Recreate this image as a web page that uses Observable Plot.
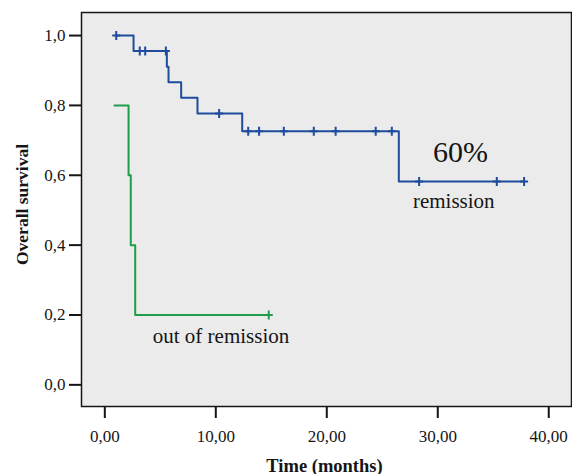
<!DOCTYPE html>
<html>
<head>
<meta charset="utf-8">
<script src="https://cdn.jsdelivr.net/npm/d3@7"></script>
<script src="https://cdn.jsdelivr.net/npm/@observablehq/plot@0.6"></script>
<style>
  html, body { margin: 0; padding: 0; background: #ffffff; }
  #chart { width: 572px; height: 474px; }
</style>
</head>
<body>
<div id="chart"></div>
<script>
// ---- Data ----
const xTicks = [0, 10, 20, 30, 40];
const yTicks = [0, 0.2, 0.4, 0.6, 0.8, 1.0];

// "remission" group: step times (months) and survival after each step
const remissionTimes    = [1.03, 2.59, 5.59, 5.74, 6.88, 8.35, 12.38, 26.49, 37.78];
const remissionSurvival = [1.0, 0.956, 0.911, 0.866, 0.822, 0.777, 0.726, 0.582, 0.582];
const remissionCensored = [1.03, 3.15, 3.64, 5.5, 10.3, 12.92, 13.9, 16.13, 18.83, 20.8, 24.41, 25.86, 28.32, 35.32, 37.78];

// "out of remission" group
const outTimes    = [0.87, 2.14, 2.34, 2.74, 14.77];
const outSurvival = [0.8, 0.6, 0.4, 0.2, 0.2];
const outCensored = [14.77];

const labelPct = "60%";
const labelRemission = "remission";
const labelOut = "out of remission";
const xTitle = "Time (months)";
const yTitle = "Overall survival";

// ---- Build tables ----
const steps = (times, surv) => times.map((t, i) => ({t, s: surv[i]}));
const censorRows = (cens, times, surv) => cens.map(c => {
  let s = surv[0];
  for (let i = 0; i < times.length; i++) if (times[i] <= c) s = surv[i];
  return {t: c, s};
});

const remSteps = steps(remissionTimes, remissionSurvival);
const remCens = censorRows(remissionCensored, remissionTimes, remissionSurvival);
const outSteps = steps(outTimes, outSurvival);
const outCens = censorRows(outCensored, outTimes, outSurvival);

const blue = "#1f4c9c";
const green = "#1e9e4a";
const ink = "#151515";
const font = "'Liberation Serif', 'DejaVu Serif', serif";

const plusSymbol = {
  draw(ctx) {
    ctx.moveTo(-4, 0); ctx.lineTo(4, 0);
    ctx.moveTo(0, -4.5); ctx.lineTo(0, 4.5);
  }
};

const commaFmt = (digits) => (d) => d.toFixed(digits).replace(".", ",");

const chart = Plot.plot({
  width: 572,
  height: 474,
  marginLeft: 81,
  marginRight: 1,
  marginTop: 12,
  marginBottom: 68,
  style: {fontFamily: font, background: "#ffffff", color: ink},
  x: {domain: [-2.1, 42.05]},
  y: {domain: [-0.062, 1.066]},
  marks: [
    Plot.frame({fill: "#ebebeb", stroke: ink, strokeWidth: 1.5}),
    Plot.axisX({ticks: xTicks, tickFormat: commaFmt(2), tickSize: 12, tickPadding: 11,
                fontSize: 17, stroke: ink, strokeWidth: 2, label: null}),
    Plot.axisY({ticks: yTicks, tickFormat: commaFmt(1), tickSize: 12, tickPadding: 4,
                fontSize: 17, stroke: ink, strokeWidth: 2, label: null}),
    Plot.line(remSteps, {x: "t", y: "s", curve: "step-after", stroke: blue, strokeWidth: 2}),
    Plot.line(outSteps, {x: "t", y: "s", curve: "step-after", stroke: green, strokeWidth: 2}),
    Plot.dot(remCens, {x: "t", y: "s", symbol: plusSymbol, fill: "none", stroke: blue, strokeWidth: 2}),
    Plot.dot(outCens, {x: "t", y: "s", symbol: plusSymbol, fill: "none", stroke: green, strokeWidth: 2}),
    Plot.text([labelPct], {x: 32.05, y: 0.639, fontSize: 30, lineAnchor: "bottom", textAnchor: "middle", fill: ink}),
    Plot.text([labelRemission], {x: 31.44, y: 0.506, fontSize: 21, lineAnchor: "bottom", textAnchor: "middle", fill: ink}),
    Plot.text([labelOut], {x: 10.47, y: 0.1195, fontSize: 21, lineAnchor: "bottom", textAnchor: "middle", fill: ink}),
    Plot.text([xTitle], {frameAnchor: "bottom", dy: 65, dx: -2, fontSize: 18.5, fontWeight: "bold", lineAnchor: "bottom", textAnchor: "middle", fill: ink}),
    Plot.text([yTitle], {frameAnchor: "left", rotate: -90, dx: -54, dy: -5, fontSize: 17.5, fontWeight: "bold", lineAnchor: "bottom", textAnchor: "middle", fill: ink})
  ]
});

document.getElementById("chart").appendChild(chart);
</script>
</body>
</html>
